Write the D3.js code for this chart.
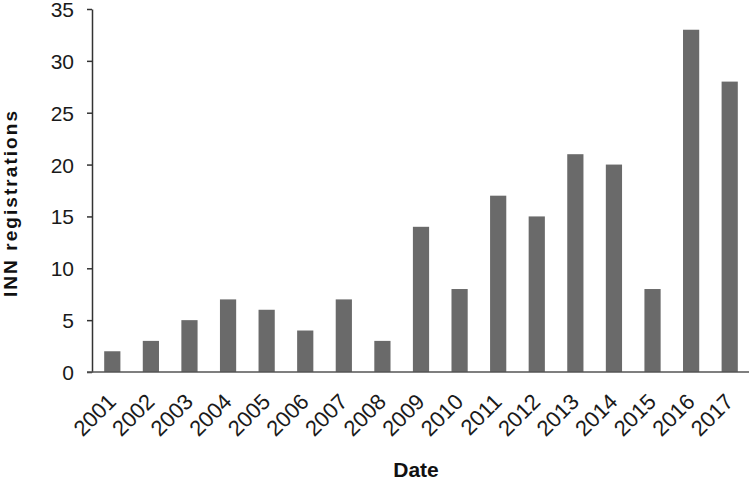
<!DOCTYPE html>
<meta charset="utf-8">
<script src="https://d3js.org/d3.v7.min.js"></script>
<style>
  body { margin: 0; background: #fff; }
  text { font-family: "Liberation Sans", Arial, sans-serif; }
</style>
<div id="chart"></div>
<script>
  var width = 750
  var height = 481

  // data
  var years = ["2001", "2002", "2003", "2004", "2005", "2006", "2007", "2008", "2009",
    "2010", "2011", "2012", "2013", "2014", "2015", "2016", "2017"]
  var registrations = [2, 3, 5, 7, 6, 4, 7, 3, 14, 8, 17, 15, 21, 20, 8, 33, 28]
  var yTicks = [0, 5, 10, 15, 20, 25, 30, 35]

  var margin = { left: 92, right: 1, top: 9, bottom: 109 }

  var svg = d3.select("#chart")
    .append("svg")
    .attr("width", width)
    .attr("height", height)
    .style("overflow", "visible")

  var x = d3.scaleBand()
    .domain(years)
    .range([margin.left + 1, width - margin.right])
    .paddingInner(0.58)
    .paddingOuter(0.29)

  var y = d3.scaleLinear()
    .domain([0, 35])
    .range([height - margin.bottom, margin.top])

  svg.append("g")
    .selectAll("rect")
    .data(registrations)
    .enter()
    .append("rect")
    .attr("x", function (d, i) { return x(years[i]) })
    .attr("width", x.bandwidth())
    .attr("y", function (d) { return y(d) })
    .attr("height", function (d) { return y(0) - y(d) })
    .attr("fill", "#6a6a6a")

  // y axis
  var yAxis = svg.append("g")
    .attr("transform", "translate(" + margin.left + ",0)")
    .call(d3.axisLeft(y).tickValues(yTicks).tickSize(5).tickSizeOuter(0))
  yAxis.select(".domain").attr("stroke", "#333").attr("stroke-width", 1.5)
  yAxis.selectAll(".tick line").attr("stroke", "#333").attr("stroke-width", 1.5)
  yAxis.selectAll(".tick text")
    .style("font-size", "21px")
    .attr("fill", "#1a1a1a")
    .attr("x", -18)
    .attr("dy", "0.36em")

  // x axis
  var xAxis = svg.append("g")
    .attr("transform", "translate(0," + y(0) + ")")
    .call(d3.axisBottom(x).tickSize(0).tickSizeOuter(0))
  xAxis.select(".domain").attr("stroke", "#555").attr("stroke-width", 1.5)
    .attr("d", "M" + (margin.left - 5) + ",0H" + (width - 1))
  xAxis.selectAll(".tick text")
    .style("font-size", "22px")
    .attr("fill", "#1a1a1a")
    .attr("text-anchor", "end")
    .attr("x", 0)
    .attr("y", 0)
    .attr("dy", 0)
    .attr("transform", "translate(5,31) rotate(-45)")

  svg.append("text")
    .attr("x", 416)
    .attr("y", 477)
    .attr("text-anchor", "middle")
    .style("font-size", "21px")
    .attr("font-weight", "bold")
    .attr("fill", "#111")
    .text("Date")

  svg.append("text")
    .attr("transform", "translate(17,204) rotate(-90)")
    .attr("text-anchor", "middle")
    .style("font-size", "19px")
    .attr("font-weight", "bold")
    .attr("fill", "#111")
    .attr("textLength", 186)
    .attr("lengthAdjust", "spacing")
    .text("INN registrations")
</script>
